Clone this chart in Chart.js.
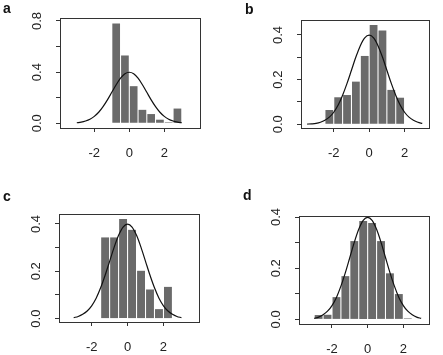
<!DOCTYPE html>
<html>
<head>
<meta charset="utf-8">
<script src="https://cdn.jsdelivr.net/npm/chart.js@4.4.1/dist/chart.umd.min.js"></script>
<style>
  body { margin: 0; background: #fff; }
  #wrap { position: relative; width: 443px; height: 355px; overflow: hidden; }
  canvas { position: absolute; }
  .lbl { position: absolute; font: bold 14px "Liberation Sans", Arial, sans-serif; line-height: 14px; color: #111; }
</style>
</head>
<body>
<div id="wrap">
  <canvas id="ca" style="left:0;top:0" width="221" height="177"></canvas>
  <canvas id="cb" style="left:221px;top:0" width="222" height="177"></canvas>
  <canvas id="cc" style="left:0;top:177px" width="221" height="178"></canvas>
  <canvas id="cd" style="left:221px;top:177px" width="222" height="178"></canvas>
  <div class="lbl" style="left:3px;top:1px">a</div>
  <div class="lbl" style="left:245px;top:2px">b</div>
  <div class="lbl" style="left:3px;top:189px">c</div>
  <div class="lbl" style="left:243px;top:188px">d</div>
</div>
<script>
// histogram bin centres (width 0.5) and densities
var aBins = [-0.75, -0.25, 0.25, 0.75, 1.25, 1.75, 2.25, 2.75];
var aVals = [0.78, 0.53, 0.29, 0.105, 0.072, 0.028, 0.008, 0.115];

var bBins = [-2.25, -1.75, -1.25, -0.75, -0.25, 0.25, 0.75, 1.25, 1.75];
var bVals = [0.064, 0.121, 0.131, 0.191, 0.306, 0.445, 0.42, 0.154, 0.119];

var cBins = [-1.25, -0.75, -0.25, 0.25, 0.75, 1.25, 1.75, 2.25];
var cVals = [0.343, 0.343, 0.421, 0.375, 0.202, 0.123, 0.04, 0.134];

var dBins = [-2.75, -2.25, -1.75, -1.25, -0.75, -0.25, 0.25, 0.75, 1.25, 1.75, 2.25];
var dVals = [0.017, 0.018, 0.087, 0.169, 0.306, 0.384, 0.377, 0.306, 0.18, 0.099, 0.004];

// overlaid density curve
var curveX = [-3, -2.75, -2.5, -2.25, -2, -1.75, -1.5, -1.25, -1, -0.75, -0.5, -0.25, 0,
              0.25, 0.5, 0.75, 1, 1.25, 1.5, 1.75, 2, 2.25, 2.5, 2.75, 3];
var curveY = [0.004, 0.009, 0.018, 0.032, 0.054, 0.086, 0.130, 0.183, 0.242, 0.301, 0.352, 0.387, 0.399,
              0.387, 0.352, 0.301, 0.242, 0.183, 0.130, 0.086, 0.054, 0.032, 0.018, 0.009, 0.004];
// panel b curve starts a bit further left
var curveXLeftB = [-3.5, -3.25];
var curveYLeftB = [0.001, 0.002];

// tick values and labels
var xTicks = [-2, 0, 2];
var xTickLabels = ["-2", "0", "2"];
var aYTicks = [0, 0.2, 0.4, 0.6, 0.8];
var aYLabels = ["0.0", "0.4", "0.8"];
var bcdYTicks = [0, 0.1, 0.2, 0.3, 0.4];
var bcdYLabels = ["0.0", "0.2", "0.4"];

var barColor = "#6a6a6a";
var inkColor = "#222";

function pts(xs, ys) {
  var out = [];
  for (var i = 0; i < xs.length; i++) out.push({ x: xs[i], y: ys[i] });
  return out;
}

// box round the plot + rotated y labels, R style
var framePlugin = {
  id: "frame",
  afterDraw: function(chart) {
    var c = chart.ctx, a = chart.chartArea, ys = chart.scales.y;
    c.save();
    c.strokeStyle = "#333";
    c.lineWidth = 1;
    c.strokeRect(Math.round(a.left) + 0.5, Math.round(a.top) + 0.5,
                 Math.round(a.right - a.left), Math.round(a.bottom - a.top));
    c.fillStyle = inkColor;
    c.font = "13px 'Liberation Sans', Arial, sans-serif";
    c.textAlign = "center";
    c.textBaseline = "middle";
    var labs = chart.options.plugins.frame.labels;
    for (var i = 0; i < labs.length; i++) {
      var py = ys.getPixelForValue(parseFloat(labs[i]));
      c.save();
      c.translate(a.left - 23, py);
      c.rotate(-Math.PI / 2);
      c.fillText(labs[i], 0, 0);
      c.restore();
    }
    c.restore();
  }
};

function makePanel(id, bins, vals, cx, cy, xr, yr, yTicks, yLabels, pad) {
  var ctx = document.getElementById(id);
  return new Chart(ctx, {
    type: "bar",
    data: {
      datasets: [{
        type: "line",
        data: pts(cx, cy),
        borderColor: "#111",
        borderWidth: 1.2,
        pointRadius: 0,
        cubicInterpolationMode: "monotone",
        fill: false,
        order: 0
      }, {
        type: "bar",
        data: pts(bins, vals),
        backgroundColor: barColor,
        borderWidth: 0,
        barPercentage: 0.88,
        categoryPercentage: 1,
        grouped: false,
        order: 1
      }]
    },
    options: {
      responsive: false,
      animation: false,
      layout: { padding: pad },
      plugins: { legend: { display: false }, tooltip: { enabled: false }, frame: { labels: yLabels } },
      scales: {
        x: {
          type: "linear",
          offset: false,
          min: xr[0], max: xr[1],
          border: { display: false },
          grid: { display: true, offset: false, drawOnChartArea: false, drawTicks: true, tickLength: 4, color: "#333" },
          afterBuildTicks: function(s) { s.ticks = xTicks.map(function(v) { return { value: v }; }); },
          afterFit: function(s) { s.height = 30; },
          ticks: {
            padding: 14, maxRotation: 0, autoSkip: false, color: inkColor,
            font: { family: "'Liberation Sans', Arial, sans-serif", size: 13 },
            callback: function(v) { var k = xTicks.indexOf(v); return k < 0 ? "" : xTickLabels[k]; }
          }
        },
        y: {
          type: "linear",
          min: yr[0], max: yr[1],
          border: { display: false },
          grid: { display: true, drawOnChartArea: false, drawTicks: true, tickLength: 4, color: "#333" },
          afterBuildTicks: function(s) { s.ticks = yTicks.map(function(v) { return { value: v }; }); },
          afterFit: function(s) { s.width = 40; },
          ticks: { display: false }
        }
      }
    },
    plugins: [framePlugin]
  });
}

makePanel("ca", aBins, aVals, curveX, curveY, [-3.96, 4.04], [-0.037, 0.823], aYTicks, aYLabels,
  { left: 20, top: 18, right: 21, bottom: 19 });
makePanel("cb", bBins, bVals, curveXLeftB.concat(curveX), curveYLeftB.concat(curveY),
  [-3.85, 3.38], [-0.0166, 0.467], bcdYTicks, bcdYLabels,
  { left: 40, top: 20, right: 14, bottom: 19 });
makePanel("cc", cBins, cVals, curveX, curveY, [-3.82, 3.98], [-0.0144, 0.442], bcdYTicks, bcdYLabels,
  { left: 19, top: 37, right: 22, bottom: 3 });
makePanel("cd", dBins, dVals, curveX, curveY, [-3.85, 3.44], [-0.018, 0.404], bcdYTicks, bcdYLabels,
  { left: 38, top: 39, right: 14, bottom: 1 });
</script>
</body>
</html>
